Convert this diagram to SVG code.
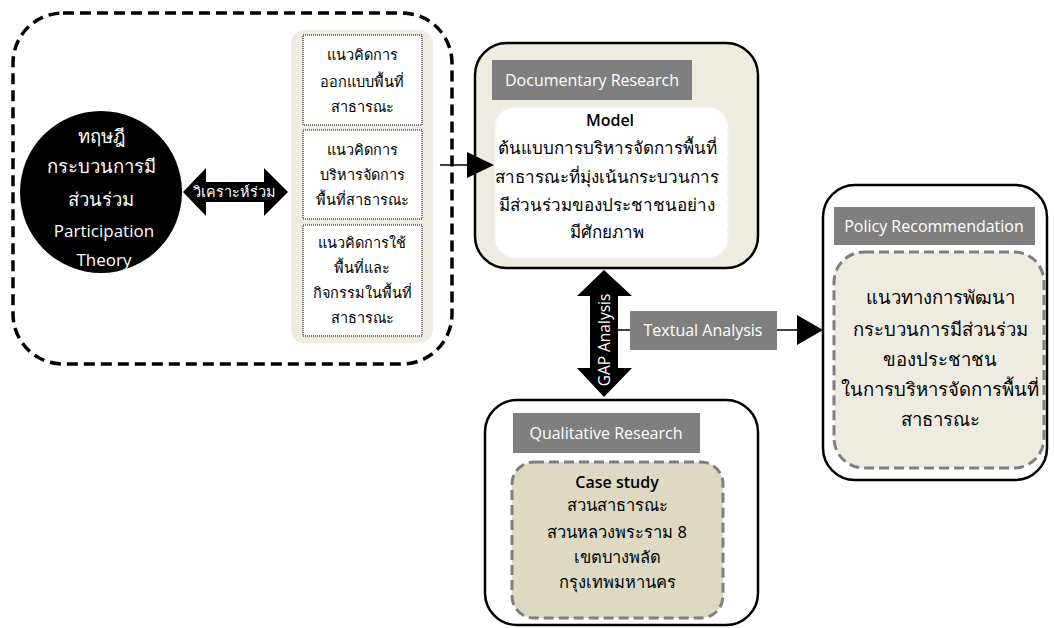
<svg xmlns="http://www.w3.org/2000/svg" width="1054" height="628" viewBox="0 0 1054 628">
<style>
  .th { font-family: "Noto Sans", "DejaVu Sans", sans-serif; text-anchor: middle; }
  .lat { font-family: "Open Sans", "Noto Sans", sans-serif; text-anchor: middle; }
  .wt { fill: #ffffff; }
  .bk { fill: #000000; }
  .lbl { fill: #7f7f7f; }
  .frame { fill: #ffffff; stroke: #000000; stroke-width: 2.5; }
  .dashin { stroke: #7f7f7f; stroke-width: 3; stroke-dasharray: 10 5; }
  .dotbox { fill: #ffffff; stroke: #000000; stroke-width: 1; stroke-dasharray: 1 1; }
</style>
<rect width="1054" height="628" fill="#ffffff"/>

<g id="theory-group">
  <rect x="13" y="13" width="439" height="351" rx="50" fill="none" stroke="#000" stroke-width="3.5" stroke-dasharray="11 6"/>
</g>

<g id="theory">
  <circle cx="101" cy="192" r="81" fill="#000"/>
  <text class="th wt" font-size="18.5" x="101" y="143">ทฤษฎี</text>
  <text class="th wt" font-size="18.5" x="101" y="173">กระบวนการมี</text>
  <text class="th wt" font-size="18.5" x="101" y="206">ส่วนร่วม</text>
  <text class="lat wt" font-size="17" x="104" y="237">Participation</text>
  <text class="lat wt" font-size="17" x="104" y="266">Theory</text>
</g>

<g id="concepts">
  <rect x="291" y="30" width="142" height="313" rx="14" fill="#eeece1"/>
  <g id="concept-1">
    <rect class="dotbox" x="303" y="35" width="119" height="90"/>
    <text class="th bk" font-size="14.5" x="362" y="60">แนวคิดการ</text>
    <text class="th bk" font-size="14.5" x="362" y="87">ออกแบบพื้นที่</text>
    <text class="th bk" font-size="14.5" x="362" y="112">สาธารณะ</text>
  </g>
  <g id="concept-2">
    <rect class="dotbox" x="303" y="130" width="119" height="89"/>
    <text class="th bk" font-size="14.5" x="362" y="155">แนวคิดการ</text>
    <text class="th bk" font-size="14.5" x="362" y="180">บริหารจัดการ</text>
    <text class="th bk" font-size="14.5" x="362" y="205">พื้นที่สาธารณะ</text>
  </g>
  <g id="concept-3">
    <rect class="dotbox" x="303" y="225" width="119" height="111"/>
    <text class="th bk" font-size="14.5" x="362" y="248">แนวคิดการใช้</text>
    <text class="th bk" font-size="14.5" x="362" y="273">พื้นที่และ</text>
    <text class="th bk" font-size="14.5" x="362" y="298">กิจกรรมในพื้นที่</text>
    <text class="th bk" font-size="14.5" x="362" y="323">สาธารณะ</text>
  </g>
</g>

<g id="documentary">
  <rect x="475" y="43" width="283" height="225" rx="32" fill="#eeece1" stroke="#000" stroke-width="2.5"/>
  <rect class="lbl" x="492" y="60" width="200" height="40"/>
  <text class="lat wt" font-size="16" x="592" y="86">Documentary Research</text>
  <rect x="495" y="107" width="233" height="151" rx="20" fill="#ffffff" stroke="#f2f2f2" stroke-width="2" stroke-dasharray="6 3"/>
  <text class="lat bk" font-size="16" font-weight="600" x="610" y="126">Model</text>
  <text class="th bk" font-size="17" x="607" y="154">ต้นแบบการบริหารจัดการพื้นที่</text>
  <text class="th bk" font-size="17" x="607" y="183">สาธารณะที่มุ่งเน้นกระบวนการ</text>
  <text class="th bk" font-size="17" x="607" y="211">มีส่วนร่วมของประชาชนอย่าง</text>
  <text class="th bk" font-size="17" x="607" y="238">มีศักยภาพ</text>
</g>

<g id="policy">
  <rect class="frame" x="823" y="185" width="224" height="295" rx="32"/>
  <rect class="lbl" x="834" y="207" width="201" height="38"/>
  <text class="lat wt" font-size="16" x="934" y="232">Policy Recommendation</text>
  <rect class="dashin" x="834" y="252" width="210" height="216" rx="30" fill="#eeece1"/>
  <text class="th bk" font-size="18.5" font-weight="500" x="940" y="304">แนวทางการพัฒนา</text>
  <text class="th bk" font-size="18.5" font-weight="500" x="940" y="336">กระบวนการมีส่วนร่วม</text>
  <text class="th bk" font-size="18.5" font-weight="500" x="940" y="366">ของประชาชน</text>
  <text class="th bk" font-size="18.5" font-weight="500" x="940" y="396">ในการบริหารจัดการพื้นที่</text>
  <text class="th bk" font-size="18.5" font-weight="500" x="940" y="426">สาธารณะ</text>
</g>

<g id="qualitative">
  <rect class="frame" x="485" y="400" width="273" height="225" rx="32"/>
  <rect class="lbl" x="513" y="413" width="187" height="40"/>
  <text class="lat wt" font-size="16" x="606" y="439">Qualitative Research</text>
  <rect class="dashin" x="512" y="462" width="211" height="156" rx="22" fill="#ddd9c3"/>
  <text class="lat bk" font-size="16" font-weight="600" x="617" y="488">Case study</text>
  <text class="th bk" font-size="16.5" x="617" y="511">สวนสาธารณะ</text>
  <text class="th bk" font-size="16.5" x="617" y="538">สวนหลวงพระราม 8</text>
  <text class="th bk" font-size="16.5" x="617" y="563">เขตบางพลัด</text>
  <text class="th bk" font-size="16.5" x="617" y="588">กรุงเทพมหานคร</text>
</g>

<g id="connectors">
  <g id="joint-analysis">
    <polygon points="183,192 206,168 206,182 264,182 264,168 288,192 264,216 264,202 206,202 206,216" fill="#000"/>
    <text class="th wt" font-size="14.5" x="234" y="197">วิเคราะห์ร่วม</text>
  </g>
  <g id="to-model">
    <line x1="440" y1="165" x2="470" y2="165" stroke="#000" stroke-width="1.5"/>
    <polygon points="467,152 494,165 467,178" fill="#000"/>
  </g>
  <g id="gap-analysis">
    <polygon points="604,270 632,296 618,296 618,368 632,368 604,397 577,368 590,368 590,296 577,296" fill="#000"/>
    <text class="lat wt" font-size="15.5" x="604" y="340" dominant-baseline="central" transform="rotate(-90 604 340)">GAP Analysis</text>
  </g>
  <g id="textual-analysis">
    <line x1="618" y1="330" x2="800" y2="330" stroke="#000" stroke-width="1.5"/>
    <rect class="lbl" x="630" y="311" width="147" height="39"/>
    <text class="lat wt" font-size="16" x="703" y="336">Textual Analysis</text>
    <polygon points="797,315 823,330 797,345" fill="#000"/>
  </g>
</g>
</svg>
